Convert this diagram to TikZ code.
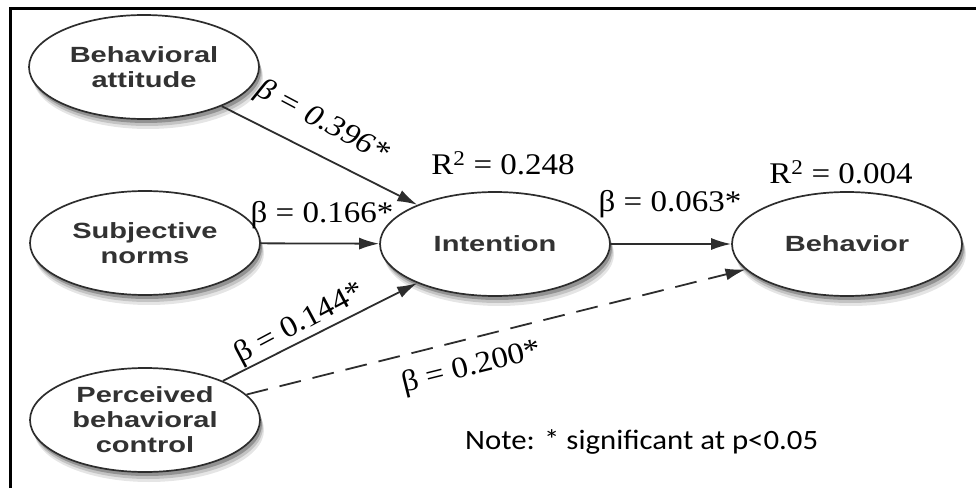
\documentclass[tikz,border=0pt]{standalone}
\usepackage{fontspec}
\setmainfont{Liberation Serif}
\newfontfamily\ovalfont[FakeStretch=1.32]{Liberation Sans}
\newfontfamily\coeffont[FakeStretch=1.1]{Liberation Serif}
\newfontfamily\notefont[FakeStretch=1.1]{Carlito}
\usetikzlibrary{arrows.meta,shapes.geometric,shadows}
\definecolor{TpbInk}{RGB}{50,50,50}
\definecolor{TpbLine}{RGB}{45,45,45}
\tikzset{
  tpb/oval/.style={
    ellipse,
    draw=TpbLine,
    line width=1.7pt,
    fill=white,
    minimum width=230pt,
    minimum height=104pt,
    inner sep=0pt,
    align=center,
    text=TpbInk,
    font=\ovalfont\bfseries\fontsize{22}{25}\selectfont,
    drop shadow={shadow xshift=4pt,shadow yshift=-10pt,opacity=0.10,fill=black},
    drop shadow={shadow xshift=3pt,shadow yshift=-7pt,opacity=0.15,fill=black},
    drop shadow={shadow xshift=2pt,shadow yshift=-4pt,opacity=0.25,fill=black}
  },
  tpb/arrow/.style={-{Latex[length=20pt,width=12pt]}, line width=1.8pt, draw=TpbLine},
  tpb/dasharrow/.style={-{Latex[length=20pt,width=12pt]}, line width=1.8pt, draw=TpbLine,
    dash pattern=on 22pt off 12pt},
  tpb/coef/.style={font=\coeffont\fontsize{30}{32}\selectfont, text=black, inner sep=0pt},
  tpb/note/.style={font=\notefont\fontsize{28}{30}\selectfont, text=black, inner sep=0pt}
}
\begin{document}
\begin{tikzpicture}[x=1pt,y=1pt]
  \useasboundingbox (0,0) rectangle (976,488);
  % frame
  \draw[line width=3pt] (10,0) -- (10,479) -- (976,479);
  % constructs
  \node[tpb/oval] (attitude) at (144,421) {Behavioral\\attitude};
  \node[tpb/oval] (norms) at (145,245) {Subjective\\norms};
  \node[tpb/oval] (control) at (145,68) {Perceived\\behavioral\\control};
  \node[tpb/oval] (intention) at (495,244) {Intention};
  \node[tpb/oval] (behavior) at (847,244) {Behavior};
  % paths
  \draw[tpb/arrow] (attitude) -- (intention);
  \draw[tpb/arrow] (norms) -- (intention);
  \draw[tpb/arrow] (control) -- (intention);
  \draw[tpb/arrow] (intention) -- (behavior);
  \draw[tpb/dasharrow] (control) -- (behavior);
  % coefficients
  \node[tpb/coef,rotate=-28] (c396) at (322,366) {\itshape β = 0.396*};
  \node[tpb/coef] (c166) at (322,273) {β = 0.166*};
  \node[tpb/coef,rotate=28] (c144) at (300,164) {β = 0.144*};
  \node[tpb/coef] (c063) at (670,284) {β = 0.063*};
  \node[tpb/coef,rotate=14] (c200) at (472,120) {β = 0.200*};
  \node[tpb/coef] (r248) at (503,325) {R\textsuperscript{2} = 0.248};
  \node[tpb/coef] (r004) at (841,316) {R\textsuperscript{2} = 0.004};
  \node[tpb/note,anchor=west] (note) at (465,46) {Note: * significant at p<0.05};
\end{tikzpicture}
\end{document}
